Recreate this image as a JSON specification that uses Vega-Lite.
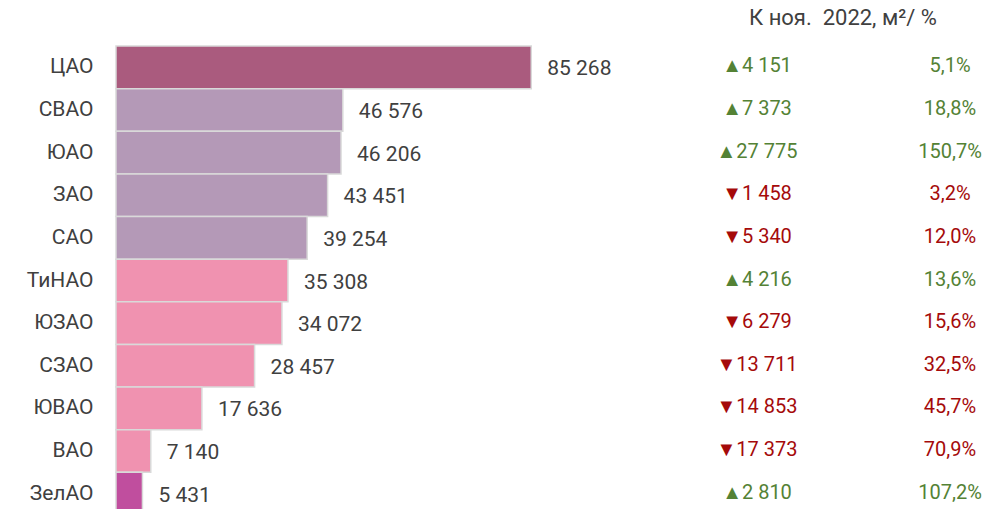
{
  "$schema": "https://vega.github.io/schema/vega-lite/v6.json",
  "width": 888,
  "height": 469,
  "autosize": {"type": "none"},
  "padding": {"left": 116, "top": 46, "right": 0, "bottom": 0},
  "background": "white",
  "config": {"view": {"stroke": null}, "font": "Roboto"},
  "title": {
    "text": "К ноя. \u00a02022, м²/ %",
    "anchor": "start",
    "frame": "group",
    "dx": 727,
    "dy": 21,
    "align": "center",
    "baseline": "alphabetic",
    "offset": 19,
    "fontSize": 22,
    "fontWeight": "normal",
    "color": "#404040",
    "font": "Roboto"
  },
  "data": {
    "values": [
      {"district": "ЦАО", "value": 85268, "label": "85 268", "change": "▲4 151", "pct": "5,1%", "dir": "up", "grp": "a"},
      {"district": "СВАО", "value": 46576, "label": "46 576", "change": "▲7 373", "pct": "18,8%", "dir": "up", "grp": "b"},
      {"district": "ЮАО", "value": 46206, "label": "46 206", "change": "▲27 775", "pct": "150,7%", "dir": "up", "grp": "b"},
      {"district": "ЗАО", "value": 43451, "label": "43 451", "change": "▼1 458", "pct": "3,2%", "dir": "down", "grp": "b"},
      {"district": "САО", "value": 39254, "label": "39 254", "change": "▼5 340", "pct": "12,0%", "dir": "down", "grp": "b"},
      {"district": "ТиНАО", "value": 35308, "label": "35 308", "change": "▲4 216", "pct": "13,6%", "dir": "up", "grp": "c"},
      {"district": "ЮЗАО", "value": 34072, "label": "34 072", "change": "▼6 279", "pct": "15,6%", "dir": "down", "grp": "c"},
      {"district": "СЗАО", "value": 28457, "label": "28 457", "change": "▼13 711", "pct": "32,5%", "dir": "down", "grp": "c"},
      {"district": "ЮВАО", "value": 17636, "label": "17 636", "change": "▼14 853", "pct": "45,7%", "dir": "down", "grp": "c"},
      {"district": "ВАО", "value": 7140, "label": "7 140", "change": "▼17 373", "pct": "70,9%", "dir": "down", "grp": "c"},
      {"district": "ЗелАО", "value": 5431, "label": "5 431", "change": "▲2 810", "pct": "107,2%", "dir": "up", "grp": "d"}
    ]
  },
  "encoding": {
    "y": {
      "field": "district",
      "type": "nominal",
      "sort": null,
      "scale": {"paddingInner": 0, "paddingOuter": 0},
      "axis": {
        "title": null,
        "domain": false,
        "ticks": false,
        "labelPadding": 23,
        "labelFontSize": 21,
        "labelColor": "#404040",
        "labelFont": "Roboto"
      }
    }
  },
  "resolve": {"scale": {"color": "independent"}},
  "layer": [
    {
      "mark": {"type": "bar", "stroke": "#D9D9D9", "strokeWidth": 1.5},
      "encoding": {
        "x": {"field": "value", "type": "quantitative", "scale": {"domain": [0, 182341], "nice": false, "zero": true}, "axis": null},
        "color": {
          "field": "grp",
          "type": "nominal",
          "scale": {"domain": ["a", "b", "c", "d"], "range": ["#AA5B7E", "#B499B7", "#F092B0", "#C04E9E"]},
          "legend": null
        }
      }
    },
    {
      "mark": {"type": "text", "align": "left", "baseline": "middle", "dx": 16, "dy": 2, "fontSize": 21, "color": "#404040"},
      "encoding": {
        "x": {"field": "value", "type": "quantitative"},
        "text": {"field": "label"}
      }
    },
    {
      "layer": [
        {
          "mark": {"type": "text", "align": "center", "baseline": "middle", "dy": -1, "fontSize": 20},
          "encoding": {
            "x": {"datum": 131622, "type": "quantitative"},
            "text": {"field": "change"},
            "color": {"field": "dir", "type": "nominal", "scale": {"domain": ["up", "down"], "range": ["#548235", "#A50A0A"]}, "legend": null}
          }
        },
        {
          "mark": {"type": "text", "align": "center", "baseline": "middle", "dy": -1, "fontSize": 20},
          "encoding": {
            "x": {"datum": 171253, "type": "quantitative"},
            "text": {"field": "pct"},
            "color": {"field": "dir", "type": "nominal", "legend": null}
          }
        }
      ]
    }
  ]
}
